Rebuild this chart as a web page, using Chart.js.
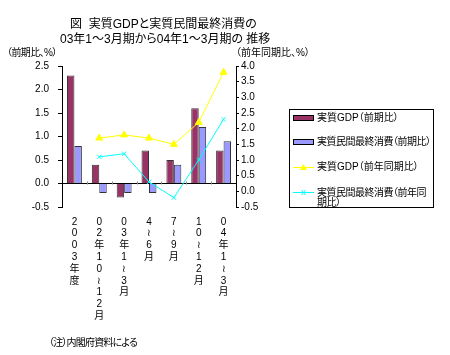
<!DOCTYPE html>
<html><head><meta charset="utf-8">
<script src="https://cdn.jsdelivr.net/npm/chart.js@4/dist/chart.umd.min.js"></script>
<style>
html,body{margin:0;padding:0;background:#fff;}
#wrap{position:relative;width:450px;height:355px;font-family:"Liberation Sans","Noto Sans CJK JP",sans-serif;color:#000;}
#wrap canvas{position:absolute;left:0;top:0;}
.t{position:absolute;white-space:nowrap;font-feature-settings:"palt";line-height:1;}
#legend{position:absolute;left:289px;top:109px;width:145px;height:99px;border:1px solid #000;box-sizing:border-box;}
.li{position:absolute;left:3px;font-size:10px;font-feature-settings:"palt";white-space:nowrap;line-height:10px;}
.n{letter-spacing:-0.5px;}
.sw{position:absolute;}
</style></head>
<body><div id="wrap">
<canvas id="c" width="450" height="355"></canvas>
<div class="t" style="left:70px;top:18px;font-size:12px;">図&nbsp; 実質GDPと実質民間最終消費の</div>
<div class="t" style="left:60px;top:33px;font-size:12px;">03年1～3月期から04年1～3月期の 推移</div>
<div class="t" style="left:7px;top:48px;font-size:10px;letter-spacing:-0.6px;">（前期比、%）</div>
<div class="t" style="left:236px;top:48px;font-size:10px;">（前年同期比、%）</div>
<div class="t" style="left:49px;top:338px;font-size:10px;letter-spacing:-0.8px;">（注）内閣府資料による</div>
<div id="legend">
  <svg class="sw" style="left:3px;top:4px" width="22" height="8"><rect x="0.5" y="1.5" width="20" height="5" fill="#993366" stroke="#000"/></svg>
  <div class="li" style="left:27px;top:3px">実質GDP（前期比）</div>
  <svg class="sw" style="left:3px;top:28px" width="22" height="8"><rect x="0.5" y="1.5" width="20" height="5" fill="#9999ff" stroke="#000"/></svg>
  <div class="li n" style="left:27px;top:27px">実質民間最終消費（前期比）</div>
  <svg class="sw" style="left:3px;top:53px" width="22" height="8"><line x1="0" y1="4.5" x2="21" y2="4.5" stroke="#ffff00" stroke-width="1"/><polygon points="10.5,1 14,7 7,7" fill="#ffff00"/></svg>
  <div class="li" style="left:27px;top:52px">実質GDP（前年同期比）</div>
  <svg class="sw" style="left:3px;top:78px" width="22" height="8"><line x1="0" y1="4.5" x2="21" y2="4.5" stroke="#00ffff" stroke-width="1"/><path d="M8.5,2 L12.5,7 M12.5,2 L8.5,7" stroke="#00ffff"/></svg>
  <div class="li n" style="left:27px;top:78px">実質民間最終消費（前年同<br>期比）</div>
</div>
</div>
<script>
const categories = [
  ["2","0","0","3","年","度"],
  ["0","2","年","1","0","≀","1","2","月"],
  ["0","3","年","1","≀","3","月"],
  ["4","≀","6","月"],
  ["7","≀","9","月"],
  ["1","0","≀","1","2","月"],
  ["0","4","年","1","≀","3","月"]
];
const gdpQoQ = [2.3, 0.4, -0.3, 0.7, 0.5, 1.6, 0.7];
const consQoQ = [0.8, -0.2, -0.2, -0.2, 0.4, 1.2, 0.9];
const gdpYoY = [null, 1.7, 1.8, 1.7, 1.5, 2.2, 3.8];
const consYoY = [null, 1.1, 1.2, 0.3, -0.2, 1.0, 2.3];
const seriesNames = ["実質GDP（前期比）","実質民間最終消費（前期比）","実質GDP（前年同期比）","実質民間最終消費（前年同期比）"];

const tickFont = {family:'"Liberation Sans","Noto Sans CJK JP",sans-serif', size:10, lineHeight:1.18};

const boundaryTicks = {
  id:'boundaryTicks',
  afterDatasetsDraw(chart){
    const xs = chart.scales.x, ys = chart.scales.y, ctx = chart.ctx;
    const y0 = Math.round(ys.getPixelForValue(0)) + 0.5;
    ctx.save();
    ctx.strokeStyle = '#888'; ctx.lineWidth = 1;
    for (let i = 1; i < chart.data.labels.length; i++) {
      const x = Math.round((xs.getPixelForTick(i-1) + xs.getPixelForTick(i)) / 2) + 0.5;
      ctx.beginPath(); ctx.moveTo(x, y0); ctx.lineTo(x, y0 - 3); ctx.stroke();
    }
    ctx.restore();
  }
};

new Chart(document.getElementById('c'), {
  type:'bar',
  data:{
    labels:categories,
    datasets:[
      {type:'line', label:seriesNames[2], data:gdpYoY, yAxisID:'y2', borderColor:'#ffff00', backgroundColor:'#ffff00',
       borderWidth:1, pointStyle:'triangle', pointRadius:4, pointBorderWidth:1, tension:0, order:0},
      {type:'line', label:seriesNames[3], data:consYoY, yAxisID:'y2', borderColor:'#00ffff', backgroundColor:'#00ffff',
       borderWidth:1, pointStyle:'crossRot', pointRadius:3, pointBorderWidth:1, tension:0, order:0},
      {label:seriesNames[0], data:gdpQoQ, yAxisID:'y', backgroundColor:'#993366', borderColor:'#333', borderWidth:1, order:1,
       barPercentage:1, categoryPercentage:0.6},
      {label:seriesNames[1], data:consQoQ, yAxisID:'y', backgroundColor:'#9999ff', borderColor:'#333', borderWidth:1, order:1,
       barPercentage:1, categoryPercentage:0.6}
    ]
  },
  plugins:[boundaryTicks],
  options:{
    responsive:false, animation:false,
    layout:{padding:{left:0, top:66, right:184, bottom:0}},
    plugins:{legend:{display:false}, tooltip:{enabled:false}},
    scales:{
      x:{
        grid:{display:false, drawTicks:false},
        border:{display:false},
        ticks:{font:tickFont, color:'#000', maxRotation:0, minRotation:0, autoSkip:false, padding:9},
        afterFit:s=>{s.height=148;}
      },
      y:{
        position:'left', min:-0.5, max:2.5,
        ticks:{stepSize:0.5, font:tickFont, color:'#000', padding:9, callback:v=>Number(v).toFixed(1)},
        grid:{drawOnChartArea:true, tickLength:4, tickColor:'#000',
              color:c=> (c.tick && c.tick.value===0) ? '#000' : 'rgba(0,0,0,0)'},
        border:{display:true, color:'#000'},
        afterFit:s=>{s.width=62;}
      },
      y2:{
        position:'right', min:-0.5, max:4.0,
        ticks:{stepSize:0.5, font:tickFont, color:'#000', padding:2, callback:v=>Number(v).toFixed(1)},
        grid:{drawOnChartArea:false, tickLength:3, tickColor:'#000'},
        border:{display:true, color:'#000'},
        afterFit:s=>{s.width=30;}
      }
    }
  }
});
</script>
</body></html>
